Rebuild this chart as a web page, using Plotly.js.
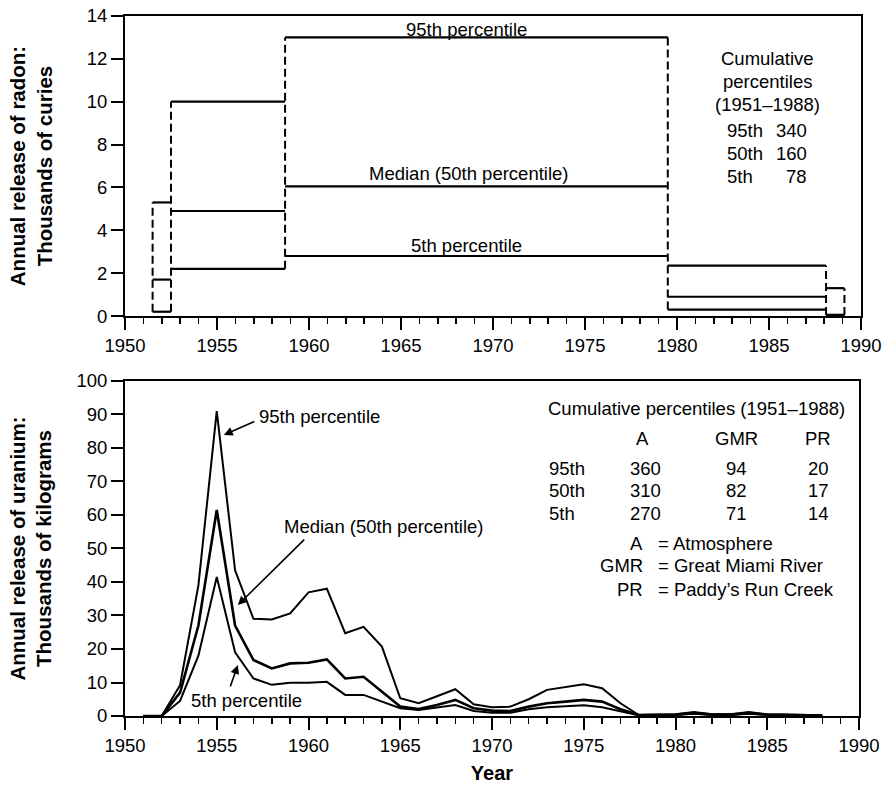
<!DOCTYPE html>
<html>
<head>
<meta charset="utf-8">
<script src="https://cdn.plot.ly/plotly-3.0.1.min.js"></script>
<style>html,body{margin:0;padding:0;background:#fff;}#chart{width:886px;height:790px;}</style>
</head>
<body>
<div id="chart"></div>
<script>
// ---------- Radon (top panel): step values between year edges ----------
var radonEdges = [1951.5, 1952.5, 1958.7, 1979.5, 1988.1, 1989.1];
var radon95 = [5.3, 10, 13, 2.35, 1.3];
var radon50 = [1.7, 4.9, 6.05, 0.9, 0.05];
var radon5  = [0.2, 2.2, 2.8, 0.3, 0.05];

// ---------- Uranium (bottom panel): annual values ----------
var uYears = [1951,1952,1953,1954,1955,1956,1957,1958,1959,1960,1961,1962,1963,1964,1965,1966,1967,1968,1969,1970,
              1971,1972,1973,1974,1975,1976,1977,1978,1979,1980,1981,1982,1983,1984,1985,1986,1987,1988];
var u95 = [0,0,9.2,39,91,43.5,29,28.8,30.6,36.9,38,24.7,26.6,20.7,5.3,3.8,5.9,8.0,3.5,2.6,
           2.8,5.0,7.8,8.6,9.5,8.3,3.8,0.3,0.5,0.5,1.2,0.5,0.5,1.2,0.5,0.4,0.3,0.2];
var u50 = [0,0,7,27,61.5,27,16.7,14.2,15.7,15.9,16.9,11.2,11.7,7.3,2.8,2.1,3.3,4.8,2.3,1.6,
           1.5,2.8,3.8,4.3,4.8,4.3,2.0,0.3,0.4,0.4,0.9,0.4,0.4,0.9,0.4,0.3,0.2,0.1];
var u5  = [0,0,4.5,18,41.5,19,11.2,9.3,9.9,9.9,10.2,6.3,6.3,4.3,2.3,1.8,2.5,3.3,1.5,1.0,
           1.0,2.0,2.6,2.8,3.2,2.6,1.3,0.2,0.3,0.3,0.7,0.3,0.3,0.7,0.3,0.2,0.1,0.1];

// ---------- Text tables ----------
var radonCumTitle = ['Cumulative', 'percentiles', '(1951\u20131988)'];
var radonCumLabels = ['95th', '50th', '5th'];
var radonCumValues = ['340', '160', '78'];
var uCumHeaders = ['A', 'GMR', 'PR'];
var uCumRows = ['95th', '50th', '5th'];
var uCumA = ['360', '310', '270'];
var uCumGMR = ['94', '82', '71'];
var uCumPR = ['20', '17', '14'];
var uAbbrev = ['A', 'GMR', 'PR'];
var uAbbrevNames = ['Atmosphere', 'Great Miami River', 'Paddy\u2019s Run Creek'];

var FONT = 'Liberation Sans, Arial, Helvetica, sans-serif';
var BLACK = '#000';
var TXT = 18.5;

function stepSegments(edges, vals) {
  var x = [], y = [];
  for (var i = 0; i < vals.length; i++) {
    x.push(edges[i], edges[i + 1], null);
    y.push(vals[i], vals[i], null);
  }
  return {x: x, y: y};
}
function verticalSegments(edges, series) {
  var x = [], y = [];
  for (var i = 0; i < edges.length; i++) {
    var v = [];
    series.forEach(function (s) {
      if (i - 1 >= 0 && i - 1 < s.length) v.push(s[i - 1]);
      if (i < s.length) v.push(s[i]);
    });
    x.push(edges[i], edges[i], null);
    y.push(Math.min.apply(null, v), Math.max.apply(null, v), null);
  }
  return {x: x, y: y};
}

var traces = [];
[radon95, radon50, radon5].forEach(function (s) {
  var seg = stepSegments(radonEdges, s);
  traces.push({x: seg.x, y: seg.y, xaxis: 'x', yaxis: 'y', mode: 'lines',
    line: {color: BLACK, width: 2.2}, hoverinfo: 'skip', showlegend: false});
});
var vs = verticalSegments(radonEdges, [radon95, radon50, radon5]);
traces.push({x: vs.x, y: vs.y, xaxis: 'x', yaxis: 'y', mode: 'lines',
  line: {color: BLACK, width: 2, dash: '8px,4px'}, hoverinfo: 'skip', showlegend: false});

[[u95, 2], [u50, 2.6], [u5, 2]].forEach(function (p) {
  traces.push({x: uYears, y: p[0], xaxis: 'x2', yaxis: 'y2', mode: 'lines',
    line: {color: BLACK, width: p[1]}, hoverinfo: 'skip', showlegend: false});
});

function xAxis(domain, anchor, extra) {
  var a = {
    domain: domain, anchor: anchor, range: [1950, 1990],
    tickmode: 'array', tickvals: [1950,1955,1960,1965,1970,1975,1980,1985,1990],
    ticks: 'outside', ticklen: 12, tickwidth: 2, tickcolor: BLACK,
    minor: {tick0: 1950, dtick: 1, ticks: 'outside', ticklen: 6, tickwidth: 1.5, tickcolor: BLACK, showgrid: false},
    showline: true, linewidth: 2, linecolor: BLACK, mirror: true,
    showgrid: false, zeroline: false, fixedrange: true,
    tickfont: {family: FONT, size: 18.5, color: BLACK}
  };
  for (var k in extra) a[k] = extra[k];
  return a;
}
function yAxis(domain, anchor, range, dtick, title, standoff) {
  return {
    domain: domain, anchor: anchor, range: range, dtick: dtick, tick0: 0,
    ticks: 'outside', ticklen: 12, tickwidth: 2, tickcolor: BLACK,
    showline: true, linewidth: 2, linecolor: BLACK, mirror: true,
    showgrid: false, zeroline: false, fixedrange: true,
    tickfont: {family: FONT, size: 18.5, color: BLACK},
    title: {text: title, font: {family: FONT, size: 20.5, color: BLACK, weight: 'bold'}, standoff: standoff}
  };
}

var ann = [];
function txt(xref, yref, x, y, text, opts) {
  var a = {xref: xref, yref: yref, x: x, y: y, text: text, showarrow: false,
    font: {family: FONT, size: TXT, color: BLACK}, xanchor: 'center', yanchor: 'middle'};
  for (var k in opts) a[k] = opts[k];
  ann.push(a);
}
function arrow(x, y, ax, ay) {
  ann.push({xref: 'x2', yref: 'y2', axref: 'x2', ayref: 'y2', x: x, y: y, ax: ax, ay: ay,
    text: '', showarrow: true, arrowhead: 2, arrowsize: 1.1, arrowwidth: 1.6, arrowcolor: BLACK, standoff: 0});
}

// top panel labels
txt('x', 'y', 1968.56, 13.39, '95th percentile');
txt('x', 'y', 1968.67, 6.63, 'Median (50th percentile)');
txt('x', 'y', 1968.56, 3.31, '5th percentile');
var rTitleY = [12.03, 10.93, 9.89];
radonCumTitle.forEach(function (t, i) { txt('x', 'y', 1984.94, rTitleY[i], t); });
var rRowY = [8.68, 7.59, 6.53];
radonCumLabels.forEach(function (t, i) { txt('x', 'y', 1982.6, rRowY[i], t, {xanchor: 'left'}); });
radonCumValues.forEach(function (t, i) { txt('x', 'y', 1987.2, rRowY[i], t, {xanchor: 'right'}); });

// bottom panel labels and arrows
txt('x2', 'y2', 1960.6, 89.3, '95th percentile');
arrow(1955.39, 83.9, 1957.13, 88.1);
txt('x2', 'y2', 1964.12, 56.7, 'Median (50th percentile)');
arrow(1956.15, 33.1, 1959.85, 53.1);
txt('x2', 'y2', 1956.64, 4.5, '5th percentile');
arrow(1956.15, 15.2, 1955.71, 8.4);

txt('x2', 'y2', 1981.13, 91.9, 'Cumulative percentiles (1951\u20131988)');
var hx = [1978.2, 1983.3, 1987.77];
uCumHeaders.forEach(function (h, i) { txt('x2', 'y2', hx[i], 82.7, h); });
var uRowY = [74.0, 67.2, 60.3];
uCumRows.forEach(function (t, i) {
  txt('x2', 'y2', 1973.02, uRowY[i], t, {xanchor: 'left'});
  txt('x2', 'y2', hx[0] + 0.15, uRowY[i], uCumA[i]);
  txt('x2', 'y2', hx[1], uRowY[i], uCumGMR[i]);
  txt('x2', 'y2', hx[2], uRowY[i], uCumPR[i]);
});
var uLegY = [51.6, 44.8, 37.9];
uAbbrev.forEach(function (t, i) {
  txt('x2', 'y2', 1978.35, uLegY[i], t, {xanchor: 'right'});
  txt('x2', 'y2', 1978.95, uLegY[i], '= ' + uAbbrevNames[i], {xanchor: 'left'});
});

var layout = {
  width: 886, height: 790,
  margin: {l: 125, r: 25, t: 16, b: 74, pad: 0},
  paper_bgcolor: '#fff', plot_bgcolor: '#fff',
  showlegend: false,
  font: {family: FONT, size: TXT, color: BLACK},
  xaxis: xAxis([0, 1], 'y', {}),
  yaxis: yAxis([0.5714, 1], 'x', [0, 14], 2, 'Annual release of radon:<br>Thousands of curies', 29),
  xaxis2: xAxis([0, 0.9973], 'y2', {title: {text: 'Year', font: {family: FONT, size: 20, color: BLACK, weight: 'bold'}, standoff: 11}}),
  yaxis2: yAxis([0, 0.4786], 'x2', [0, 100], 10, 'Annual release of uranium:<br>Thousands of kilograms', 19),
  annotations: ann
};

Plotly.newPlot('chart', traces, layout, {displayModeBar: false, staticPlot: true});
</script>
</body>
</html>
